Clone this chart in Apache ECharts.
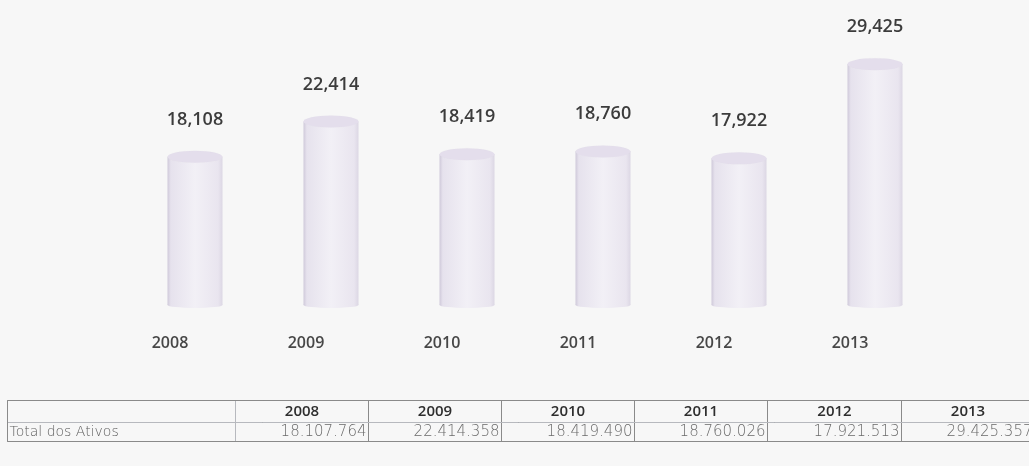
<!DOCTYPE html>
<html><head><meta charset="utf-8">
<script src="https://cdn.jsdelivr.net/npm/echarts@6/dist/echarts.min.js"></script>
<style>html,body{margin:0;padding:0;background:#f7f7f7}#c{width:1029px;height:466px}</style>
</head><body><div id="c"></div>
<script>
// Data
const years = ['2008', '2009', '2010', '2011', '2012', '2013'];
const totalsThousands = [18108, 22414, 18419, 18760, 17922, 29425];
const totalsFull = ['18.107.764', '22.414.358', '18.419.490', '18.760.026', '17.921.513', '29.425.357'];
const rowLabel = 'Total dos Ativos';

const chart = echarts.init(document.getElementById('c'), null, { renderer: 'canvas' });

const bodyGrad = new echarts.graphic.LinearGradient(0, 0, 1, 0, [
  { offset: 0, color: '#cfc9da' },
  { offset: 0.06, color: '#e6e2ed' },
  { offset: 0.5, color: '#f2f0f6' },
  { offset: 0.92, color: '#e9e5ef' },
  { offset: 1, color: '#dcd7e4' }
]);

const lineCol = '#8a8a8a';

const option = {
  backgroundColor: '#f7f7f7',
  animation: false,
  grid: { left: 127, right: 86, top: 64, bottom: 161 },
  xAxis: {
    type: 'category',
    data: years,
    axisLine: { show: false },
    axisTick: { show: false },
    axisLabel: {
      margin: 30,
      padding: [0, 50, 0, 0],
      fontFamily: 'Open Sans',
      fontSize: 16,
      fontWeight: 600,
      color: '#474747'
    }
  },
  yAxis: { type: 'value', min: 0, max: 'dataMax', show: false },
  series: [
    {
      type: 'bar',
      data: totalsThousands,
      barWidth: 55,
      itemStyle: { color: bodyGrad },
      z: 2,
      label: {
        show: true,
        position: 'top',
        distance: 28,
        fontFamily: 'Open Sans',
        fontSize: 18,
        fontWeight: 600,
        color: '#3c3c3c',
        formatter: p => p.value.toLocaleString('en-US')
      }
    },
    {
      type: 'pictorialBar',
      data: totalsThousands,
      symbol: 'circle',
      symbolSize: [55, 12],
      symbolPosition: 'end',
      symbolOffset: [0, '-50%'],
      itemStyle: { color: '#e4deec', borderColor: '#d3ccdc', borderWidth: 0.6 },
      z: 3,
      silent: true
    },
    {
      type: 'pictorialBar',
      data: totalsThousands,
      symbol: 'circle',
      symbolSize: [55, 6],
      symbolPosition: 'start',
      symbolOffset: [0, '50%'],
      itemStyle: { color: bodyGrad },
      z: 1,
      silent: true
    }
  ],
  matrix: {
    left: 7,
    top: 400,
    width: 1027,
    height: 41,
    backgroundStyle: { color: 'transparent', borderColor: lineCol, borderWidth: 1 },
    x: {
      data: years,
      levelSize: 22,
      label: { fontFamily: 'Open Sans', fontSize: 15, fontWeight: 600, color: '#2e2e2e' },
      itemStyle: { color: 'transparent', borderColor: lineCol, borderWidth: 1 }
    },
    y: {
      data: [rowLabel],
      levelSize: 228,
      label: { fontFamily: 'DejaVu Sans', fontSize: 14, fontWeight: 200, color: '#5e5e5e', position: 'insideLeft', padding: [0, 0, 0, 2] },
      itemStyle: { color: 'transparent', borderColor: lineCol, borderWidth: 1 }
    },
    corner: {
      itemStyle: { color: 'transparent', borderColor: lineCol, borderWidth: 1 }
    },
    body: {
      data: years.map((y, i) => ({ coord: [y, rowLabel], value: totalsFull[i] })),
      label: { fontFamily: 'DejaVu Sans', fontSize: 15, fontWeight: 200, color: '#6a6a6a', position: 'insideRight', padding: [0, 2, 0, 0] },
      itemStyle: { color: 'transparent', borderColor: lineCol, borderWidth: 1 }
    }
  }
};
chart.setOption(option);
</script>
</body></html>
